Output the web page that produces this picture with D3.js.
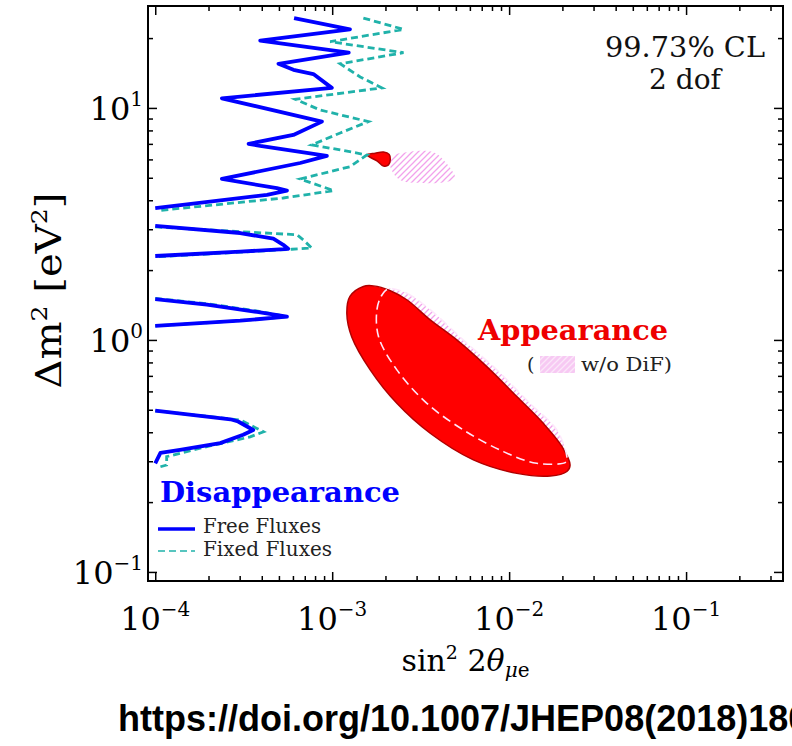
<!DOCTYPE html>
<html>
<head>
<meta charset="utf-8">
<script src="https://cdn.jsdelivr.net/npm/d3@7"></script>
<style>
  body { margin: 0; background: #fff; }
  svg { display: block; }
  text { font-family: "DejaVu Serif", serif; }
</style>
</head>
<body>
<div id="chart"></div>
<script>
// points are [sin^2 2theta_mue, dm^2 (eV^2)]

// Disappearance, free fluxes (solid blue), one array per lobe
const freeLobe1 = [[6.09e-4, 24.4], [1.26e-3, 21.8], [3.92e-4, 19.5], [1.24e-3, 17.3], [4.97e-4, 15.5],
    [6.04e-4, 14.6], [7.83e-4, 14.0], [9.95e-4, 12.2], [2.38e-4, 11.0], [8.75e-4, 8.73],
    [6.03e-4, 7.65], [3.37e-4, 7.0], [3.92e-4, 6.86], [9.33e-4, 6.21], [6.59e-4, 5.79],
    [2.38e-4, 4.94], [4.87e-4, 4.51], [5.55e-4, 4.40], [4.28e-4, 4.22], [1.0e-4, 3.70]];
const freeLobe2 = [[1.0e-4, 3.10], [3.02e-4, 2.89], [4.65e-4, 2.73], [5.29e-4, 2.57], [5.64e-4, 2.47],
    [3.02e-4, 2.40], [1.0e-4, 2.30]];
const freeLobe3 = [[1.0e-4, 1.50], [1.96e-4, 1.42], [3.76e-4, 1.32], [5.55e-4, 1.26], [3.02e-4, 1.21],
    [1.0e-4, 1.15]];
const freeLobe4 = [[1.0e-4, 0.496], [2.66e-4, 0.455], [2.94e-4, 0.445], [3.58e-4, 0.409], [3.14e-4, 0.390],
    [2.33e-4, 0.359], [1.38e-4, 0.336], [1.07e-4, 0.326], [1.0e-4, 0.294]];

// Disappearance, fixed fluxes (dashed teal)
const fixedLobe1 = [[1.50e-3, 24.4], [2.53e-3, 21.8], [9.74e-4, 19.3], [2.53e-3, 17.3], [1.11e-3, 15.5],
    [1.44e-3, 13.6], [1.91e-3, 12.2], [6.18e-4, 10.9], [8.55e-4, 9.80], [1.60e-3, 8.73],
    [1.11e-3, 7.80], [7.67e-4, 6.93], [1.11e-3, 6.59], [1.57e-3, 6.27], [1.26e-3, 5.58],
    [6.59e-4, 4.94], [1.02e-3, 4.40], [5.29e-4, 4.09], [1.04e-4, 3.61]];
const fixedLobe2 = [[1.0e-4, 3.07], [6.32e-4, 2.84], [6.86e-4, 2.70], [7.67e-4, 2.49], [5.92e-4, 2.46],
    [3.02e-4, 2.39], [1.0e-4, 2.28]];
const fixedLobe3 = [[1.0e-4, 1.51], [2.0e-4, 1.43], [3.8e-4, 1.33], [5.6e-4, 1.26], [3.0e-4, 1.21],
    [1.0e-4, 1.15]];
const fixedLobe4 = [[1.0e-4, 0.495], [3.02e-4, 0.452], [4.09e-4, 0.402], [3.44e-4, 0.382], [1.96e-4, 0.347],
    [1.16e-4, 0.314], [1.16e-4, 0.289], [1.07e-4, 0.284]];

// Appearance (filled red) and appearance without DiF (hatched)
const appearMain = [[1.50e-3, 1.70], [1.71e-3, 1.71], [2.13e-3, 1.63], [2.64e-3, 1.49], [3.58e-3, 1.22],
    [5.06e-3, 1.0], [7.48e-3, 0.767], [1.105e-2, 0.570], [1.56e-2, 0.437], [1.99e-2, 0.347],
    [2.21e-2, 0.289], [2.12e-2, 0.271], [1.71e-2, 0.259], [1.105e-2, 0.266], [6.28e-3, 0.304],
    [3.58e-3, 0.396], [2.32e-3, 0.533], [1.64e-3, 0.743], [1.29e-3, 1.03], [1.21e-3, 1.30],
    [1.26e-3, 1.54]];
const appearIsland = [[1.57e-3, 6.27], [1.75e-3, 6.38], [1.95e-3, 6.45], [2.10e-3, 6.30], [2.13e-3, 6.0],
    [2.08e-3, 5.68], [1.95e-3, 5.62], [1.80e-3, 5.90]];
const noDifMain = [[2.08e-3, 1.66], [2.64e-3, 1.59], [3.58e-3, 1.35], [5.50e-3, 1.0], [8.52e-3, 0.743],
    [1.31e-2, 0.533], [1.86e-2, 0.409], [2.12e-2, 0.314], [2.10e-2, 0.298], [1.43e-2, 0.294],
    [9.29e-3, 0.330], [5.52e-3, 0.409], [3.43e-3, 0.533], [2.32e-3, 0.743], [1.83e-3, 1.03],
    [1.79e-3, 1.35], [1.90e-3, 1.55]];
const noDifIsland = [[2.17e-3, 6.17], [2.76e-3, 6.48], [3.73e-3, 6.44], [4.26e-3, 5.97], [4.96e-3, 4.98],
    [4.45e-3, 4.81], [3.43e-3, 4.74], [2.42e-3, 4.89], [2.13e-3, 5.58]];

const xTickExps = [-4, -3, -2, -1];
const yTickExps = [-1, 0, 1];

const width = 792, height = 746;
const plot = {left: 148, right: 783, top: 6, bottom: 581};

let svg = d3.select('#chart').append('svg')
    .attr('width', width)
    .attr('height', height);

let x = d3.scaleLog().domain([9.1e-5, 0.353]).range([plot.left, plot.right]);
let y = d3.scaleLog().domain([0.0914, 27.5]).range([plot.bottom, plot.top]);

//hatch pattern for the w/o DiF regions
let defs = svg.append('defs');
let hatch = defs.append('pattern')
    .attr('id', 'hatch')
    .attr('patternUnits', 'userSpaceOnUse')
    .attr('width', 6).attr('height', 6);
hatch.append('path')
    .attr('d', 'M-1,1 l2,-2 M0,6 l6,-6 M5,7 l2,-2')
    .attr('stroke', '#f2a2ec').attr('stroke-width', 1.3);
let hatchKey = defs.append('pattern')
    .attr('id', 'hatch-key')
    .attr('patternUnits', 'userSpaceOnUse')
    .attr('width', 6).attr('height', 6);
hatchKey.append('rect').attr('width', 6).attr('height', 6).attr('fill', '#f7c9f3');
hatchKey.append('path')
    .attr('d', 'M-1,1 l2,-2 M0,6 l6,-6 M5,7 l2,-2')
    .attr('stroke', '#fbe6f9').attr('stroke-width', 1.4);

defs.append('clipPath').attr('id', 'plot-clip')
    .append('rect')
    .attr('x', plot.left).attr('y', plot.top)
    .attr('width', plot.right - plot.left)
    .attr('height', plot.bottom - plot.top);

let line = d3.line().x(d => x(d[0])).y(d => y(d[1]));
let blob = d3.line().x(d => x(d[0])).y(d => y(d[1])).curve(d3.curveCatmullRomClosed.alpha(0.5));

let g = svg.append('g').attr('clip-path', 'url(#plot-clip)');

//appearance regions
[noDifIsland, noDifMain].forEach(function (d) {
    g.append('path').attr('d', blob(d)).attr('fill', 'url(#hatch)');
});
[appearMain, appearIsland].forEach(function (d) {
    g.append('path').attr('d', blob(d))
        .attr('fill', '#ff0000')
        .attr('stroke', '#b00000')
        .attr('stroke-width', 1.5);
});
g.append('path').attr('d', blob(noDifMain))
    .attr('fill', 'none')
    .attr('stroke', '#fde8fb')
    .attr('stroke-width', 1.6)
    .attr('stroke-dasharray', '9,5');

//disappearance contours
[fixedLobe1, fixedLobe2, fixedLobe3, fixedLobe4].forEach(function (d) {
    g.append('path').attr('d', line(d))
        .attr('fill', 'none')
        .attr('stroke', '#20b2aa')
        .attr('stroke-width', 2.8)
        .attr('stroke-dasharray', '7,4');
});
[freeLobe1, freeLobe2, freeLobe3, freeLobe4].forEach(function (d) {
    g.append('path').attr('d', line(d))
        .attr('fill', 'none')
        .attr('stroke', '#0000ff')
        .attr('stroke-width', 3.8)
        .attr('stroke-linejoin', 'round');
});

//axes: inward ticks on all four sides
let isMajor = v => Math.abs(Math.log10(v) - Math.round(Math.log10(v))) < 1e-6;
let xMinor = x.ticks().filter(v => !isMajor(v));
let yMinor = y.ticks().filter(v => !isMajor(v));
let xMajor = xTickExps.map(e => Math.pow(10, e));
let yMajor = yTickExps.map(e => Math.pow(10, e));

let axes = [
    {make: d3.axisBottom, scale: x, at: `translate(0,${plot.bottom})`, major: xMajor, minor: xMinor},
    {make: d3.axisTop, scale: x, at: `translate(0,${plot.top})`, major: xMajor, minor: xMinor},
    {make: d3.axisLeft, scale: y, at: `translate(${plot.left},0)`, major: yMajor, minor: yMinor},
    {make: d3.axisRight, scale: y, at: `translate(${plot.right},0)`, major: yMajor, minor: yMinor}
];
axes.forEach(function (a) {
    [[a.major, 9], [a.minor, 5]].forEach(function (t) {
        let ax = svg.append('g')
            .attr('transform', a.at)
            .call(a.make(a.scale).tickValues(t[0]).tickSize(-t[1]).tickFormat(''));
        ax.select('.domain').remove();
        ax.selectAll('line').attr('stroke', '#000').attr('stroke-width', 1.5);
    });
});

svg.append('rect')
    .attr('x', plot.left).attr('y', plot.top)
    .attr('width', plot.right - plot.left)
    .attr('height', plot.bottom - plot.top)
    .attr('fill', 'none')
    .attr('stroke', '#000')
    .attr('stroke-width', 2);

let powerLabel = function (sel) {
    sel.append('tspan').text('10');
    sel.append('tspan')
        .attr('dy', -14)
        .attr('font-size', 20)
        .text(d => d < 0 ? '\u2212' + (-d) : d);
};

svg.selectAll('.xtick-label')
    .data(xTickExps).enter()
    .append('text')
    .classed('xtick-label', true)
    .attr('x', d => x(Math.pow(10, d)))
    .attr('y', 630)
    .attr('text-anchor', 'middle')
    .attr('font-size', 32)
    .call(powerLabel);

svg.selectAll('.ytick-label')
    .data(yTickExps).enter()
    .append('text')
    .classed('ytick-label', true)
    .attr('x', 143)
    .attr('y', d => y(Math.pow(10, d)) + 12)
    .attr('text-anchor', 'end')
    .attr('font-size', 32)
    .call(powerLabel);

//axis titles
let xTitle = svg.append('text')
    .attr('x', (plot.left + plot.right) / 2)
    .attr('y', 671)
    .attr('text-anchor', 'middle')
    .attr('font-size', 30);
xTitle.append('tspan').text('sin');
xTitle.append('tspan').attr('dy', -12).attr('font-size', 19).text('2');
xTitle.append('tspan').attr('dy', 12).text(' 2');
xTitle.append('tspan').attr('font-style', 'italic').text('\u03b8');
xTitle.append('tspan').attr('dy', 6).attr('font-size', 20).attr('font-style', 'italic').text('\u03bc');
xTitle.append('tspan').attr('font-size', 20).text('e');

let yTitle = svg.append('text')
    .attr('transform', `translate(61,${(plot.top + plot.bottom) / 2 - 3}) rotate(-90)`)
    .attr('text-anchor', 'middle')
    .attr('font-size', 35)
    .attr('textLength', 196)
    .attr('lengthAdjust', 'spacingAndGlyphs');
yTitle.append('tspan').text('\u0394m');
yTitle.append('tspan').attr('dy', -14).attr('font-size', 22).text('2');
yTitle.append('tspan').attr('dy', 14).text(' [eV');
yTitle.append('tspan').attr('dy', -14).attr('font-size', 22).text('2');
yTitle.append('tspan').attr('dy', 14).text(']');

//annotations
svg.append('text').attr('x', 685).attr('y', 57).attr('text-anchor', 'middle')
    .attr('font-size', 28).attr('fill', '#111')
    .attr('textLength', 160).attr('lengthAdjust', 'spacingAndGlyphs')
    .text('99.73% CL');
svg.append('text').attr('x', 685).attr('y', 89).attr('text-anchor', 'middle')
    .attr('font-size', 28).attr('fill', '#111').text('2 dof');

svg.append('text').attr('x', 478).attr('y', 340)
    .attr('font-size', 27).attr('font-weight', 'bold').attr('fill', '#ee0000')
    .attr('textLength', 190).attr('lengthAdjust', 'spacingAndGlyphs')
    .text('Appearance');
svg.append('text').attr('x', 527).attr('y', 371)
    .attr('font-size', 19).attr('fill', '#222').text('(');
svg.append('rect').attr('x', 540).attr('y', 356).attr('width', 35).attr('height', 17)
    .attr('fill', 'url(#hatch-key)');
svg.append('text').attr('x', 581).attr('y', 371)
    .attr('font-size', 19).attr('fill', '#222')
    .attr('textLength', 91).attr('lengthAdjust', 'spacingAndGlyphs')
    .text('w/o DiF)');

svg.append('text').attr('x', 160).attr('y', 502)
    .attr('font-size', 27).attr('font-weight', 'bold').attr('fill', '#0000ff')
    .attr('textLength', 240).attr('lengthAdjust', 'spacingAndGlyphs')
    .text('Disappearance');

//legend for the disappearance curves
svg.append('line').attr('x1', 158).attr('x2', 195).attr('y1', 529).attr('y2', 529)
    .attr('stroke', '#0000ff').attr('stroke-width', 3.5);
svg.append('text').attr('x', 203).attr('y', 533)
    .attr('font-size', 19.5).attr('fill', '#222')
    .attr('textLength', 118).attr('lengthAdjust', 'spacingAndGlyphs')
    .text('Free Fluxes');
svg.append('line').attr('x1', 158).attr('x2', 195).attr('y1', 551).attr('y2', 551)
    .attr('stroke', '#20b2aa').attr('stroke-width', 1.3).attr('stroke-dasharray', '7,4');
svg.append('text').attr('x', 203).attr('y', 556)
    .attr('font-size', 19.5).attr('fill', '#222')
    .attr('textLength', 129).attr('lengthAdjust', 'spacingAndGlyphs')
    .text('Fixed Fluxes');

//source line under the figure
svg.append('text').attr('x', 118).attr('y', 731)
    .style('font-family', '"Liberation Sans", Arial, sans-serif')
    .attr('font-size', 36).attr('font-weight', 'bold').attr('fill', '#000')
    .text('https://doi.org/10.1007/JHEP08(2018)180');
</script>
</body>
</html>
